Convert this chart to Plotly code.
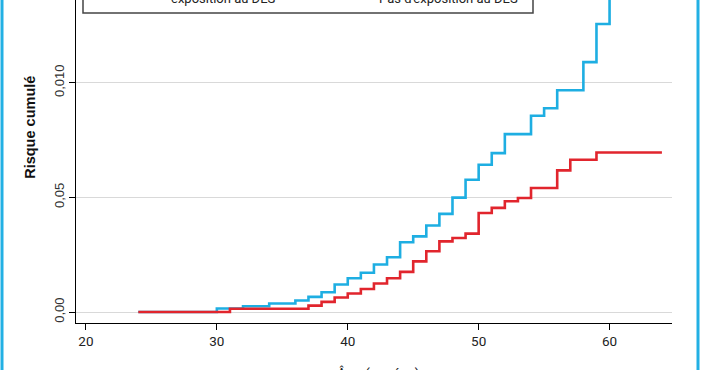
import plotly.graph_objects as go

# Data
ages_exposed = [24, 30, 32, 34, 36, 37, 38, 39, 40, 41, 42, 43, 44, 45, 46, 47, 48,
                49, 50, 51, 52, 54, 55, 56, 58, 59, 60, 61]
risk_exposed = [0.0, 0.0015, 0.0025, 0.0037, 0.0050, 0.0066, 0.0086, 0.0120, 0.0147,
                0.0171, 0.0207, 0.0239, 0.0304, 0.0330, 0.0377, 0.0428, 0.0499,
                0.0577, 0.0642, 0.0693, 0.0776, 0.0856, 0.0889, 0.0967, 0.1090,
                0.1256, 0.1450, 0.1450]

ages_unexposed = [24, 31, 37, 38, 39, 40, 41, 42, 43, 44, 45, 46, 47, 48, 49, 50, 51,
                  52, 53, 54, 56, 57, 59, 64]
risk_unexposed = [0.0, 0.0014, 0.0028, 0.0044, 0.0063, 0.0081, 0.0100, 0.0124, 0.0147,
                  0.0175, 0.0221, 0.0265, 0.0308, 0.0323, 0.0342, 0.0432, 0.0454,
                  0.0483, 0.0497, 0.0541, 0.0618, 0.0664, 0.0696, 0.0696]

x_ticks = [20, 30, 40, 50, 60]
y_ticks = [0.0, 0.05, 0.10]
y_tick_labels = ["0,00", "0,05", "0,010"]
legend_labels = ["exposition au DES", "Pas d'exposition au DES"]

BLUE = "#1eaee2"
RED = "#e1252d"

W, H = 702, 370
L, R, T, B = 76, 30, 0, 46.5
pw, ph = W - L - R, H - T - B

def px_x(p):
    return (p - L) / pw

def px_y(p):
    return (H - B - p) / ph

fig = go.Figure()
fig.add_trace(go.Scatter(x=ages_exposed, y=risk_exposed, mode="lines",
                         line=dict(color=BLUE, width=2.6, shape="hv"),
                         name=legend_labels[0], cliponaxis=True))
fig.add_trace(go.Scatter(x=ages_unexposed, y=risk_unexposed, mode="lines",
                         line=dict(color=RED, width=2.6, shape="hv"),
                         name=legend_labels[1], cliponaxis=True))

fig.update_layout(
    width=W, height=H,
    margin=dict(l=L, r=R, t=T, b=B, pad=0),
    paper_bgcolor="white", plot_bgcolor="white",
    showlegend=False,
    xaxis=dict(range=[19.24, 64.77], tickvals=x_ticks, ticks="outside", ticklen=6,
               tickcolor="black", tickwidth=1, showline=True, linecolor="black",
               linewidth=1.2, showgrid=False, zeroline=False,
               tickfont=dict(family="Roboto", size=13.5, color="#222")),
    yaxis=dict(range=[-0.0048, 0.1361], tickvals=y_ticks, ticktext=y_tick_labels,
               tickangle=-90, ticks="outside", ticklen=6, tickcolor="black",
               tickwidth=1, showline=True, linecolor="black", linewidth=1.2,
               showgrid=True, gridcolor="#d9d9d9", gridwidth=1, zeroline=False,
               tickfont=dict(family="Liberation Sans", size=13, color="#333")),
)

# y axis title
fig.add_annotation(text="<b>Risque cumulé</b>", textangle=-90, showarrow=False,
                   xref="paper", yref="paper", x=px_x(30), y=px_y(128),
                   xanchor="center", yanchor="middle",
                   font=dict(family="Liberation Sans", size=14.5, color="#111"))
# x axis title (mostly cut off at bottom)
fig.add_annotation(text="Âge (années)", showarrow=False,
                   xref="paper", yref="paper", x=px_x(378), y=px_y(364),
                   xanchor="center", yanchor="top",
                   font=dict(family="Roboto", size=14, color="#222"))

# legend box (cut off at top)
fig.add_shape(type="rect", xref="paper", yref="paper",
              x0=px_x(83), x1=px_x(533), y0=px_y(13), y1=px_y(-60),
              line=dict(color="#444", width=1.5), fillcolor="rgba(0,0,0,0)")
for lbl, cx in zip(legend_labels, [223, 448]):
    fig.add_annotation(text=lbl, showarrow=False, xref="paper", yref="paper",
                       x=px_x(cx), y=px_y(-1.5), xanchor="center", yanchor="middle",
                       font=dict(family="Roboto", size=13, color="#222"))

# cyan frame edges
for fx in [2, 698]:
    fig.add_shape(type="line", xref="paper", yref="paper",
                  x0=px_x(fx), x1=px_x(fx), y0=px_y(400), y1=px_y(-30),
                  line=dict(color="#22b0e4", width=3))

fig.write_html("out.html", config={"displayModeBar": False},
               post_script="document.body.style.margin='0';document.body.style.overflow='hidden';")
